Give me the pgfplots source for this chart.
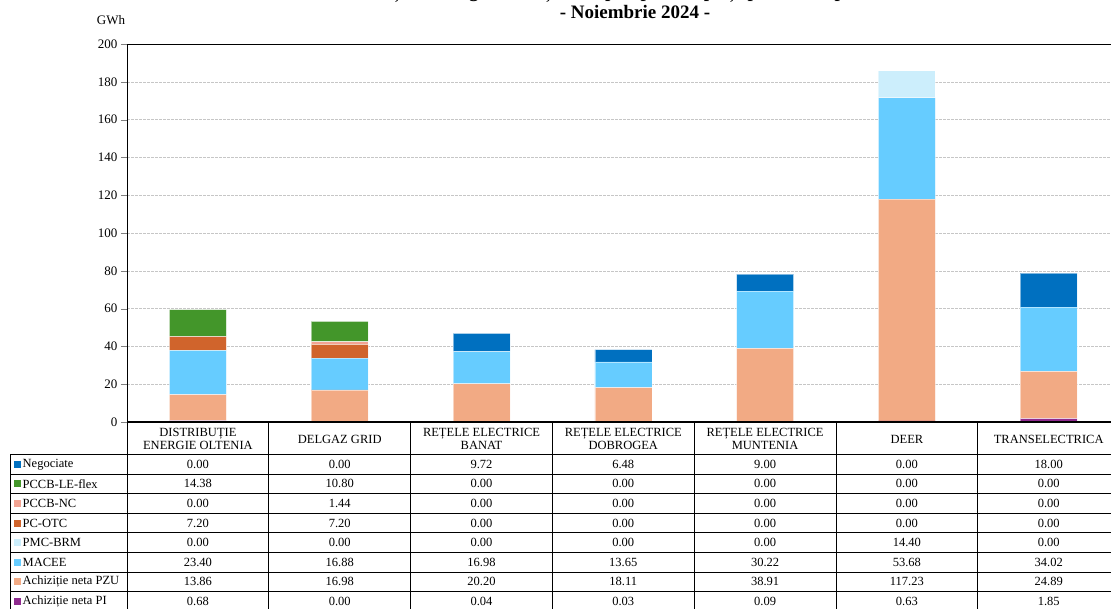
\documentclass[border=0pt]{standalone}
\usepackage{pgfplots}
\usepackage{pgfplotstable}
\pgfplotsset{compat=1.18}
\usepackage{fontspec}
\setmainfont{Liberation Serif}
\definecolor{cNEG}{HTML}{0070C0}
\definecolor{cLE}{HTML}{43962A}
\definecolor{cNC}{HTML}{F2A493}
\definecolor{cOTC}{HTML}{D0642C}
\definecolor{cBRM}{HTML}{CCEEFC}
\definecolor{cMACEE}{HTML}{66CCFF}
\definecolor{cPZU}{HTML}{F2AA84}
\definecolor{cPI}{HTML}{8E2A8E}
\pgfplotstableread{
x PI PZU MACEE BRM OTC NC LE NEG
0 0.68 13.86 23.40 0.00 7.20 0.00 14.38 0.00
1 0.00 16.98 16.88 0.00 7.20 1.44 10.80 0.00
2 0.04 20.20 16.98 0.00 0.00 0.00 0.00 9.72
3 0.03 18.11 13.65 0.00 0.00 0.00 0.00 6.48
4 0.09 38.91 30.22 0.00 0.00 0.00 0.00 9.00
5 0.63 117.23 53.68 14.40 0.00 0.00 0.00 0.00
6 1.85 24.89 34.02 0.00 0.00 0.00 0.00 18.00
}\data
\begin{document}
\begin{tikzpicture}[font=\fontsize{12.5}{13.5}\selectfont]
\useasboundingbox (0pt,0pt) rectangle (1111pt,-608pt);
% titles
\node[font=\fontsize{19}{21}\selectfont\bfseries, anchor=base] at (634pt,2.5pt) {Cantități de energie achiziționate pe tipuri de piețe pentru acoperirea CPT};
\node[font=\fontsize{19}{21}\selectfont\bfseries, anchor=base] at (635pt,-18.5pt) {- Noiembrie 2024 -};
\node[anchor=base, font=\fontsize{13}{14}\selectfont] at (111pt,-24pt) {GWh};
\begin{axis}[
  at={(127pt,-422pt)}, anchor=south west,
  scale only axis, width=992.6pt, height=378pt,
  xmin=-0.5, xmax=6.5, ymin=0, ymax=200,
  ybar stacked, bar width=57pt,
  xtick=\empty,
  ytick={0,20,...,200},
  ytick pos=left, tick align=outside, major tick length=6pt,
  yticklabel style={font=\fontsize{13}{14}\selectfont, /pgf/number format/assume math mode=true},
  ymajorgrids, grid style={gray!45, dash pattern=on 2.5pt off 1.5pt, line width=0.6pt},
  axis line style={line width=0.8pt},
  every axis plot/.append style={draw=white, draw opacity=0.5, line width=0.6pt},
]
\addplot[fill=cPI] table[x=x,y=PI]{\data};
\addplot[fill=cPZU] table[x=x,y=PZU]{\data};
\addplot[fill=cMACEE] table[x=x,y=MACEE]{\data};
\addplot[fill=cBRM] table[x=x,y=BRM]{\data};
\addplot[fill=cOTC] table[x=x,y=OTC]{\data};
\addplot[fill=cNC] table[x=x,y=NC]{\data};
\addplot[fill=cLE] table[x=x,y=LE]{\data};
\addplot[fill=cNEG] table[x=x,y=NEG]{\data};
\end{axis}
% table grid
\draw[line width=0.8pt] (10pt,-454.5pt) -- (10pt,-612pt);
\foreach \c in {0,...,7} {
  \pgfmathsetmacro\xx{127+\c*141.8}
  \draw[line width=0.8pt] (\xx pt,-422pt) -- (\xx pt,-612pt);
}
\foreach \r in {0,...,8} {
  \pgfmathsetmacro\yy{-(454.5+\r*19.57)}
  \draw[line width=0.8pt] (10pt,\yy pt) -- (1125pt,\yy pt);
}
\draw[line width=2pt] (127pt,-422pt) -- (1125pt,-422pt);
% header labels
\foreach \c/\lab in {0/{DISTRIBUȚIE\\ENERGIE OLTENIA},1/{DELGAZ GRID},2/{REȚELE ELECTRICE\\BANAT},3/{REȚELE ELECTRICE\\DOBROGEA},4/{REȚELE ELECTRICE\\MUNTENIA},5/{DEER},6/{TRANSELECTRICA}} {
  \pgfmathsetmacro\xx{127+(\c+0.5)*141.8}
  \node[align=center, font=\fontsize{12.5}{13.5}\selectfont] at (\xx pt,-439pt) {\lab};
}
% legend column
\foreach \col/\name [count=\r from 0] in {cNEG/Negociate,cLE/PCCB-LE-flex,cNC/PCCB-NC,cOTC/PC-OTC,cBRM/PMC-BRM,cMACEE/MACEE,cPZU/Achiziție neta PZU,cPI/Achiziție neta PI} {
  \pgfmathsetmacro\yy{-(464.3+\r*19.57)}
  \fill[\col] (14pt,\yy pt-3.5pt) rectangle (21pt,\yy pt+3.5pt);
  \node[anchor=west, inner sep=0pt] at (22.5pt,\yy pt) {\name};
}
% values
\foreach \s [count=\r from 0] in {NEG,LE,NC,OTC,BRM,MACEE,PZU,PI} {
  \foreach \c in {0,...,6} {
    \pgfplotstablegetelem{\c}{\s}\of\data
    \pgfmathsetmacro\xx{127+(\c+0.5)*141.8}
    \pgfmathsetmacro\yy{-(464.3+\r*19.57)}
    \node at (\xx pt,\yy pt) {\pgfmathprintnumber[fixed,fixed zerofill,precision=2,assume math mode=true]{\pgfplotsretval}};
  }
}
\end{tikzpicture}
\end{document}
